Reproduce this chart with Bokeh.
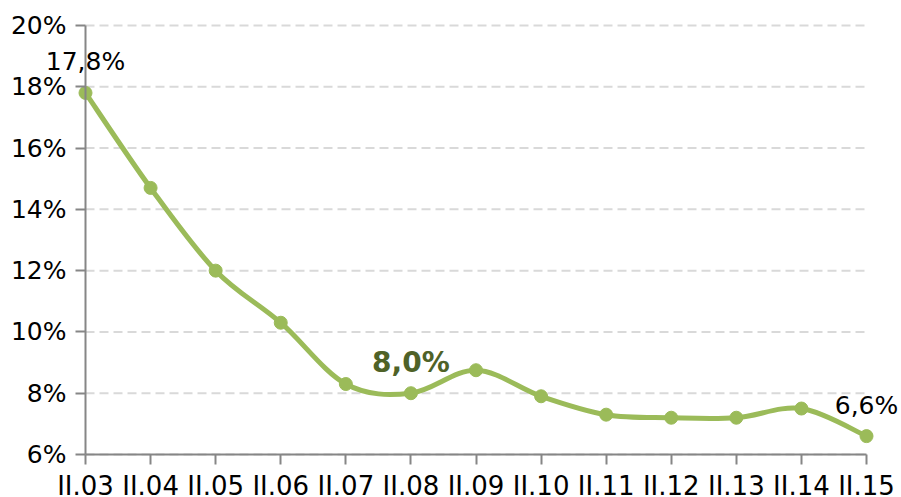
from bokeh.plotting import figure
from bokeh.models import (Range1d, FixedTicker, PrintfTickFormatter, ColumnDataSource, Label,
                          LinearAxis)
from bokeh.embed import file_html
from bokeh.resources import INLINE

categories = ["II.03", "II.04", "II.05", "II.06", "II.07", "II.08", "II.09",
              "II.10", "II.11", "II.12", "II.13", "II.14", "II.15"]
rates = [17.8, 14.7, 12.0, 10.3, 8.3, 8.0, 8.75, 7.9, 7.3, 7.2, 7.2, 7.5, 6.6]
y_ticks = [6, 8, 10, 12, 14, 16, 18, 20]
labelled_normal = [0, 12]
labelled_bold = [5]

GREEN = "#9BBB59"
FONT = "DejaVu Sans"

# page layout (pixels): where the plotting area sits inside the 901x497 canvas
W, H = 901, 497
PX_L, PX_R, PX_T, PX_B = 85, 866, 25, 454

xs = list(range(len(categories)))
n = len(xs)
x_lo, x_hi = xs[0], xs[-1]
y_lo, y_hi = y_ticks[0], y_ticks[-1]
ux = (x_hi - x_lo) / (PX_R - PX_L)
uy = (y_hi - y_lo) / (PX_B - PX_T)
x_range = Range1d(x_lo - PX_L * ux, x_hi + (W - PX_R) * ux)
y_range = Range1d(y_lo - (H - PX_B) * uy, y_hi + PX_T * uy)

p = figure(width=W, height=H, output_backend="svg", toolbar_location=None,
           x_range=x_range, y_range=y_range, x_axis_type=None, y_axis_type=None)
p.min_border_left = 0
p.min_border_right = 0
p.min_border_top = 0
p.min_border_bottom = 0
p.outline_line_color = None
p.background_fill_color = "white"
p.border_fill_color = "white"
p.xgrid.visible = False
p.ygrid.visible = False

# dashed horizontal gridlines across the category span
p.segment(x0=[x_lo] * len(y_ticks), x1=[x_hi] * len(y_ticks), y0=y_ticks, y1=y_ticks,
          line_color="#D9D9D9", line_width=2, line_dash="9 5", level="underlay")

# smooth line via cubic bezier segments (Catmull-Rom style control points)
bz = dict(x0=[], y0=[], x1=[], y1=[], cx0=[], cy0=[], cx1=[], cy1=[])
for i in range(n - 1):
    xa, ya = xs[i], rates[i]
    xb, yb = xs[i + 1], rates[i + 1]
    xp, yp = (xs[i - 1], rates[i - 1]) if i > 0 else (xa, ya)
    xn, yn = (xs[i + 2], rates[i + 2]) if i + 2 < n else (xb, yb)
    bz["x0"].append(xa); bz["y0"].append(ya)
    bz["x1"].append(xb); bz["y1"].append(yb)
    bz["cx0"].append(xa + (xb - xp) / 6); bz["cy0"].append(ya + (yb - yp) / 6)
    bz["cx1"].append(xb - (xn - xa) / 6); bz["cy1"].append(yb - (yn - ya) / 6)
p.bezier(x0="x0", y0="y0", x1="x1", y1="y1", cx0="cx0", cy0="cy0", cx1="cx1", cy1="cy1",
         source=ColumnDataSource(bz), line_color=GREEN, line_width=5, line_cap="round")
p.scatter(xs, rates, size=13, color=GREEN)

def fmt(v):
    return f"{v:.1f}%".replace(".", ",")

for i in labelled_normal:
    p.add_layout(Label(x=xs[i], y=rates[i], text=fmt(rates[i]), text_align="center",
                       text_baseline="alphabetic", y_offset=31, text_font=FONT,
                       text_font_size="25px", text_color="#000000"))
for i in labelled_bold:
    p.add_layout(Label(x=xs[i], y=rates[i], text=fmt(rates[i]), text_align="center",
                       text_baseline="alphabetic", y_offset=31, text_font=FONT,
                       text_font_size="28px", text_font_style="bold", text_color="#4F6228"))

# axes placed at fixed data locations inside the canvas
xaxis = LinearAxis(fixed_location=y_lo, bounds=(x_lo, x_hi), ticker=FixedTicker(ticks=xs),
                   major_label_overrides={i: c for i, c in enumerate(categories)})
yaxis = LinearAxis(fixed_location=x_lo, bounds=(y_lo, y_hi), ticker=FixedTicker(ticks=y_ticks),
                   formatter=PrintfTickFormatter(format="%d%%"))
for ax in (xaxis, yaxis):
    ax.axis_line_color = "#868686"
    ax.axis_line_width = 2
    ax.major_tick_line_color = "#868686"
    ax.major_tick_line_width = 2
    ax.major_tick_out = 10
    ax.major_tick_in = 0
    ax.minor_tick_line_color = None
    ax.major_label_text_font = FONT
    ax.major_label_text_color = "#000000"
xaxis.major_label_text_font_size = "26px"
yaxis.major_label_text_font_size = "25px"
xaxis.major_label_standoff = 6
yaxis.major_label_standoff = 9
p.add_layout(xaxis, "below")
p.add_layout(yaxis, "left")

open("out.html", "w").write(file_html(p, INLINE))
